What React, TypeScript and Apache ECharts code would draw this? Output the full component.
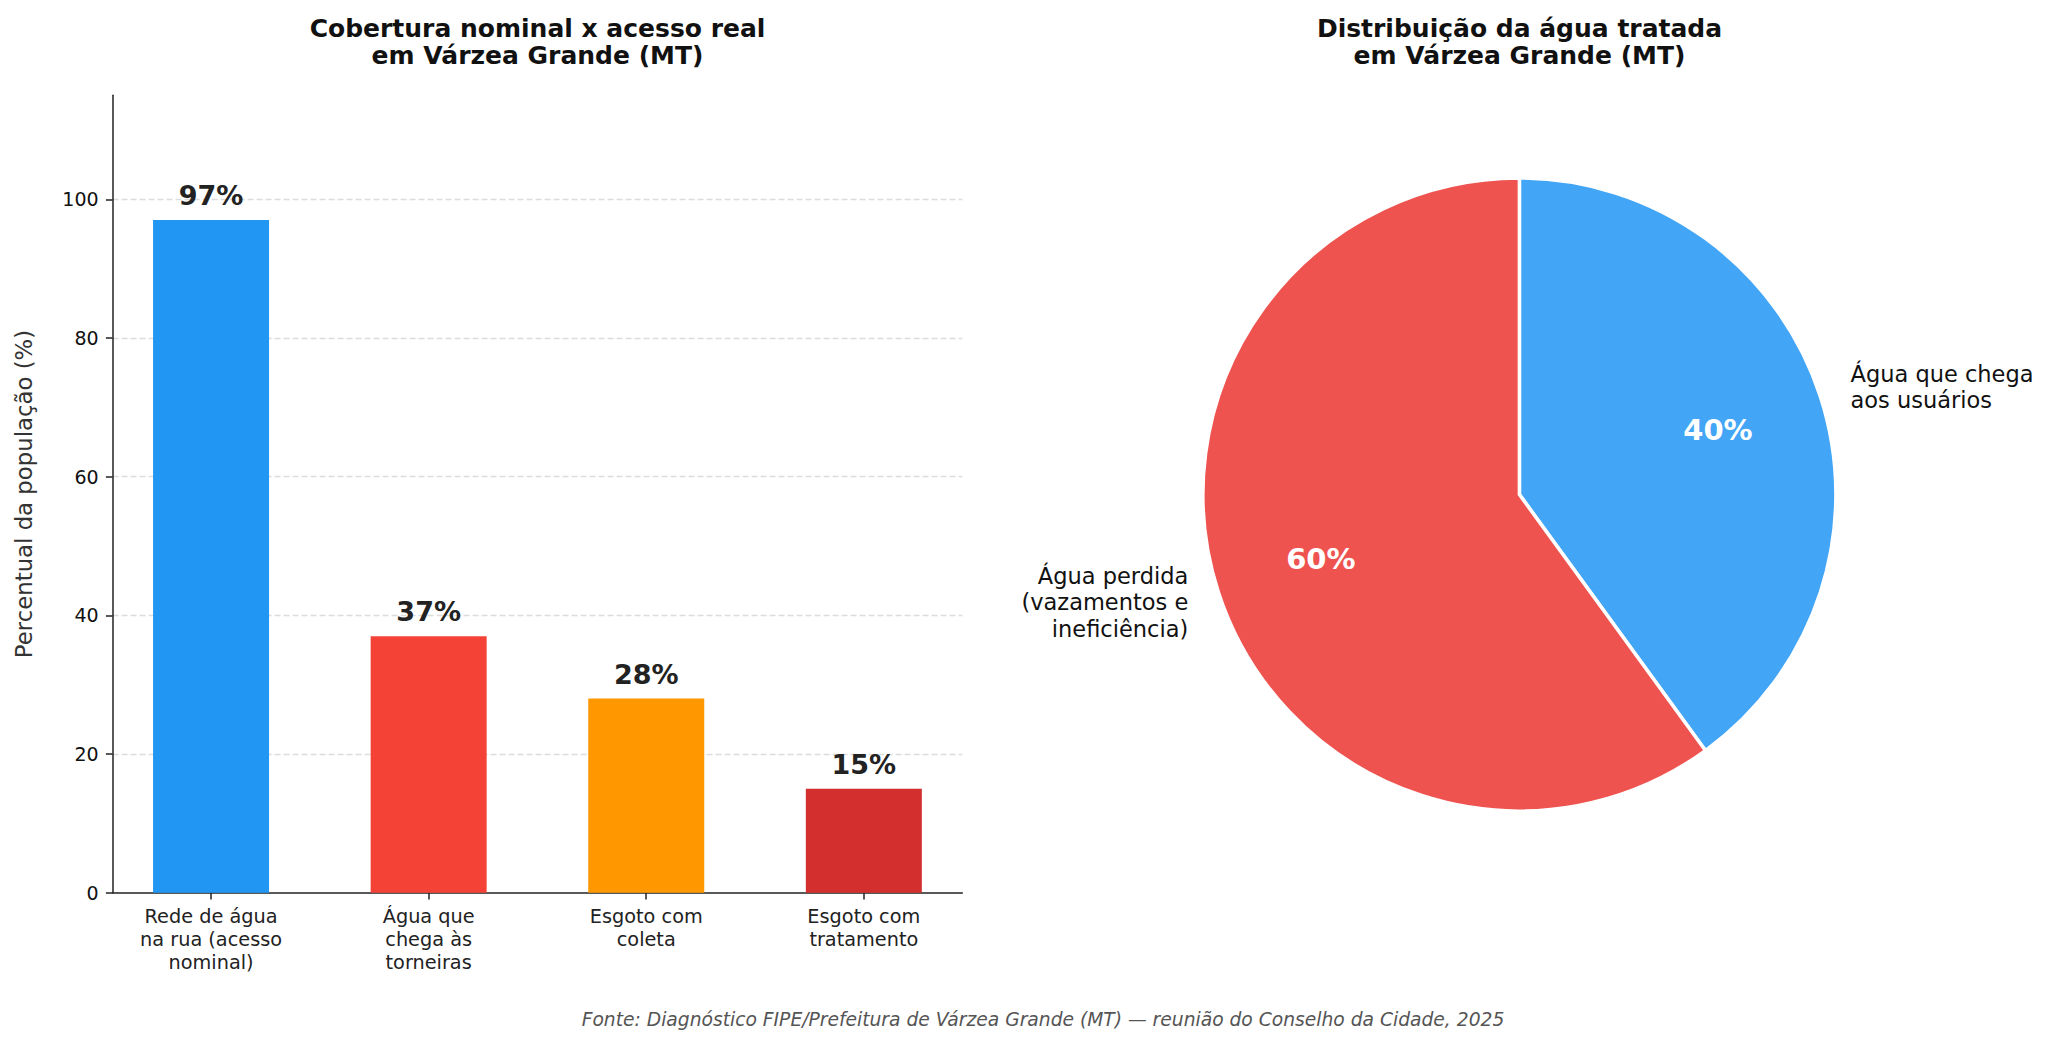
import React, { useEffect, useRef } from "react";
import * as echarts from "echarts";

// ---- data ----
const barCategories = [
  "Rede de água\nna rua (acesso\nnominal)",
  "Água que\nchega às\ntorneiras",
  "Esgoto com\ncoleta",
  "Esgoto com\ntratamento",
];
const barValues = [97, 37, 28, 15];
const barColors = ["#2196F3", "#F44336", "#FF9800", "#D32F2F"];
const yTicks = [0, 20, 40, 60, 80, 100];
const xTickPositions = [0, 1, 2, 3];

const pieNames = ["Água que chega\naos usuários", "Água perdida\n(vazamentos e\nineficiência)"];
const pieValues = [40, 60];
const pieColors = ["#42A5F5", "#EF5350"];

const leftTitle = "Cobertura nominal x acesso real\nem Várzea Grande (MT)";
const rightTitle = "Distribuição da água tratada\nem Várzea Grande (MT)";
const yAxisName = "Percentual da população (%)";
const footer = "Fonte: Diagnóstico FIPE/Prefeitura de Várzea Grande (MT) — reunião do Conselho da Cidade, 2025";

const FONT = "DejaVu Sans";

export default function App() {
  const ref = useRef<HTMLDivElement>(null);
  useEffect(() => {
    if (!ref.current) return;
    const chart = echarts.init(ref.current, null, { renderer: "svg" });
    const pieCenter = [1519.4, 494.5];
    const pieR = 316.5;
    const option: any = {
      animation: false,
      backgroundColor: "#ffffff",
      textStyle: { fontFamily: FONT },
      title: [
        {
          text: leftTitle,
          left: 537.5,
          top: 14.5,
          padding: 0,
          textAlign: "center",
          textVerticalAlign: "top",
          textStyle: { fontFamily: FONT, fontSize: 25, fontWeight: "bold", color: "#111", lineHeight: 27 },
        },
        {
          text: rightTitle,
          left: 1519.5,
          top: 14.5,
          padding: 0,
          textAlign: "center",
          textVerticalAlign: "top",
          textStyle: { fontFamily: FONT, fontSize: 25, fontWeight: "bold", color: "#111", lineHeight: 27 },
        },
        {
          text: footer,
          left: 1043,
          top: 1008,
          padding: 0,
          textAlign: "center",
          textVerticalAlign: "top",
          textStyle: { fontFamily: FONT, fontSize: 18.7, fontStyle: "italic", fontWeight: "normal", color: "#555", lineHeight: 22 },
        },
      ],
      grid: {
        left: 112.6,
        top: 95.3,
        width: 849.7,
        height: 797.4,
        containLabel: false,
        outerBoundsMode: "none",
      },
      xAxis: {
        type: "value",
        min: -0.4525,
        max: 3.4525,
        axisLine: { show: true, onZero: false, lineStyle: { color: "#222", width: 1.5 } },
        axisTick: { show: true, length: 6.7, customValues: xTickPositions, lineStyle: { color: "#222", width: 1.5 } },
        axisLabel: {
          show: true,
          customValues: xTickPositions,
          formatter: (v: number) => barCategories[Math.round(v)] ?? "",
          fontFamily: FONT,
          fontSize: 19.3,
          lineHeight: 22.8,
          margin: 12.5,
          color: "#222",
          verticalAlign: "top",
        },
        splitLine: { show: false },
      },
      yAxis: {
        type: "value",
        min: 0,
        max: 115,
        interval: 20,
        name: yAxisName,
        nameLocation: "middle",
        nameGap: 77,
        nameTextStyle: { fontFamily: FONT, fontSize: 22.8, color: "#333" },
        axisLine: { show: true, onZero: false, lineStyle: { color: "#222", width: 1.5 } },
        axisTick: { show: true, length: 6.7, customValues: yTicks, lineStyle: { color: "#222", width: 1.5 } },
        axisLabel: { show: true, customValues: yTicks, fontFamily: FONT, fontSize: 19, color: "#111", margin: 14 },
        splitLine: {
          show: true,
          showMinLine: false,
          lineStyle: { color: "#dcdcdc", width: 1.4, type: [6, 3] },
        },
      },
      series: [
        {
          type: "bar",
          barWidth: 116,
          data: barValues.map((v, i) => ({ value: [i, v], itemStyle: { color: barColors[i] } })),
          label: {
            show: true,
            position: "top",
            distance: 11,
            formatter: (p: any) => `${p.value[1]}%`,
            fontFamily: FONT,
            fontSize: 27,
            fontWeight: "bold",
            color: "#222",
          },
          emphasis: { disabled: true },
        },
        {
          type: "pie",
          center: pieCenter,
          radius: pieR,
          startAngle: 90,
          clockwise: true,
          avoidLabelOverlap: false,
          silent: true,
          itemStyle: { borderColor: "#ffffff", borderWidth: 3.5 },
          label: {
            show: true,
            position: "outside",
            formatter: "{b}",
            fontFamily: FONT,
            fontSize: 22.5,
            lineHeight: 26.5,
            color: "#111",
            distanceToLabelLine: 0,
          },
          labelLine: { show: false, length: pieR * 0.1, length2: 0 },
          emphasis: { disabled: true },
          data: pieNames.map((n, i) => ({ name: n, value: pieValues[i], itemStyle: { color: pieColors[i] } })),
        },
        {
          type: "pie",
          center: pieCenter,
          radius: [0, pieR * 1.3],
          startAngle: 90,
          clockwise: true,
          avoidLabelOverlap: false,
          silent: true,
          itemStyle: { color: "rgba(0,0,0,0)", borderWidth: 0 },
          label: {
            show: true,
            position: "inside",
            formatter: (p: any) => `${p.value}%`,
            fontFamily: FONT,
            fontSize: 29,
            fontWeight: "bold",
            color: "#ffffff",
          },
          labelLine: { show: false },
          emphasis: { disabled: true },
          data: pieNames.map((n, i) => ({ name: n + " ", value: pieValues[i] })),
        },
      ],
    };
    chart.setOption(option);
    return () => chart.dispose();
  }, []);
  return (
    <div
      ref={ref}
      style={{ position: "fixed", left: 0, top: 0, width: 2053, height: 1047, background: "#fff" }}
    />
  );
}
